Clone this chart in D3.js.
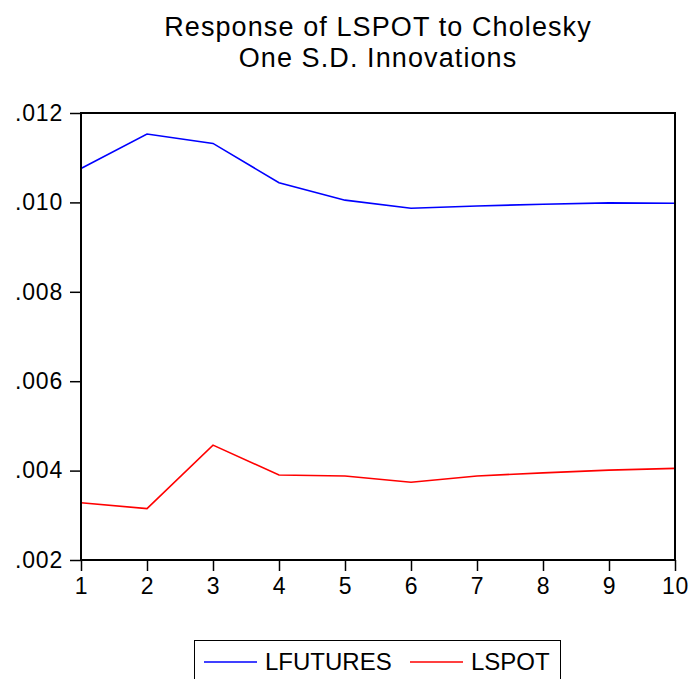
<!DOCTYPE html>
<html>
<head>
<meta charset="utf-8">
<script src="https://cdn.jsdelivr.net/npm/d3@7"></script>
<style>
  html, body { margin: 0; padding: 0; background: #fff; }
  svg { display: block; }
</style>
</head>
<body>
<div id="chart"></div>
<script>
// data
const periods = [1, 2, 3, 4, 5, 6, 7, 8, 9, 10];
const lfutures = [0.01076, 0.01153, 0.01132, 0.01044, 0.01005, 0.00987, 0.00992, 0.00996, 0.00999, 0.00998];
const lspot = [0.00328, 0.00315, 0.00457, 0.00390, 0.00388, 0.00374, 0.00388, 0.00395, 0.00401, 0.00405];
const yTicks = [0.002, 0.004, 0.006, 0.008, 0.010, 0.012];
const titleLines = ['Response of LSPOT to Cholesky', 'One S.D. Innovations'];
const seriesNames = ['LFUTURES', 'LSPOT'];
const seriesColors = ['#0000ff', '#ff0000'];

const W = 690, H = 679;
const margin = { top: 113, right: 15, bottom: 119, left: 81 };
const width = W - margin.left - margin.right;
const height = H - margin.top - margin.bottom;
const font = 'Liberation Sans, Arial, sans-serif';

const svg = d3.select('#chart').append('svg')
    .attr('width', W)
    .attr('height', H);

const chart = svg.append('g')
    .attr('transform', `translate(${margin.left},${margin.top})`);

const x = d3.scaleLinear().domain([1, 10]).range([0, width]);
const y = d3.scaleLinear().domain([0.002, 0.012]).range([height, 0]);

// Title (reference glyphs are a bit wide, so a little letter spacing)
svg.append('text')
    .attr('text-anchor', 'middle')
    .attr('font-family', font)
    .attr('font-size', '27px')
    .attr('letter-spacing', '1.1px')
    .attr('fill', '#000')
    .selectAll('tspan')
    .data(titleLines)
    .join('tspan')
    .attr('x', margin.left + width / 2)
    .attr('y', (d, i) => 36 + i * 31)
    .text(d => d);

// Axes
const fmt = d => d3.format('.3f')(d).replace(/^0/, '');

const styleAxis = ax => {
    ax.select('.domain').remove();
    ax.selectAll('line').attr('stroke', '#000').attr('stroke-width', 1.5);
    ax.selectAll('text')
        .attr('fill', '#000')
        .attr('font-size', '23px')
        .attr('letter-spacing', '0.8px')
        .attr('font-family', font);
};

chart.append('g')
    .attr('transform', `translate(0,${height})`)
    .call(d3.axisBottom(x).tickValues(periods).tickSize(11).tickPadding(7).tickFormat(d3.format('d')))
    .call(styleAxis);

chart.append('g')
    .call(d3.axisLeft(y).tickValues(yTicks).tickSize(11).tickPadding(7).tickFormat(fmt))
    .call(styleAxis);

// Lines
const line = d3.line()
    .x((d, i) => x(periods[i]))
    .y(d => y(d));

[lfutures, lspot].forEach((s, i) => {
    chart.append('path')
        .datum(s)
        .attr('fill', 'none')
        .attr('stroke', seriesColors[i])
        .attr('stroke-width', 1.6)
        .attr('d', line);
});

// Frame
chart.append('rect')
    .attr('x', 0).attr('y', 0)
    .attr('width', width).attr('height', height)
    .attr('fill', 'none')
    .attr('stroke', '#000')
    .attr('stroke-width', 2);

// Legend
const legend = svg.append('g');
legend.append('rect')
    .attr('x', 194.5).attr('y', 640.5)
    .attr('width', 366).attr('height', 60)
    .attr('fill', 'none')
    .attr('stroke', '#000')
    .attr('stroke-width', 1);

const legendX = [204, 410];
seriesNames.forEach((name, i) => {
    legend.append('line')
        .attr('x1', legendX[i]).attr('x2', legendX[i] + 53)
        .attr('y1', 662).attr('y2', 662)
        .attr('stroke', seriesColors[i])
        .attr('stroke-width', 1.6);
    legend.append('text')
        .attr('x', legendX[i] + 61)
        .attr('y', 670)
        .attr('font-family', font)
        .attr('font-size', '24px')
        .attr('fill', '#000')
        .text(name);
});
</script>
</body>
</html>
